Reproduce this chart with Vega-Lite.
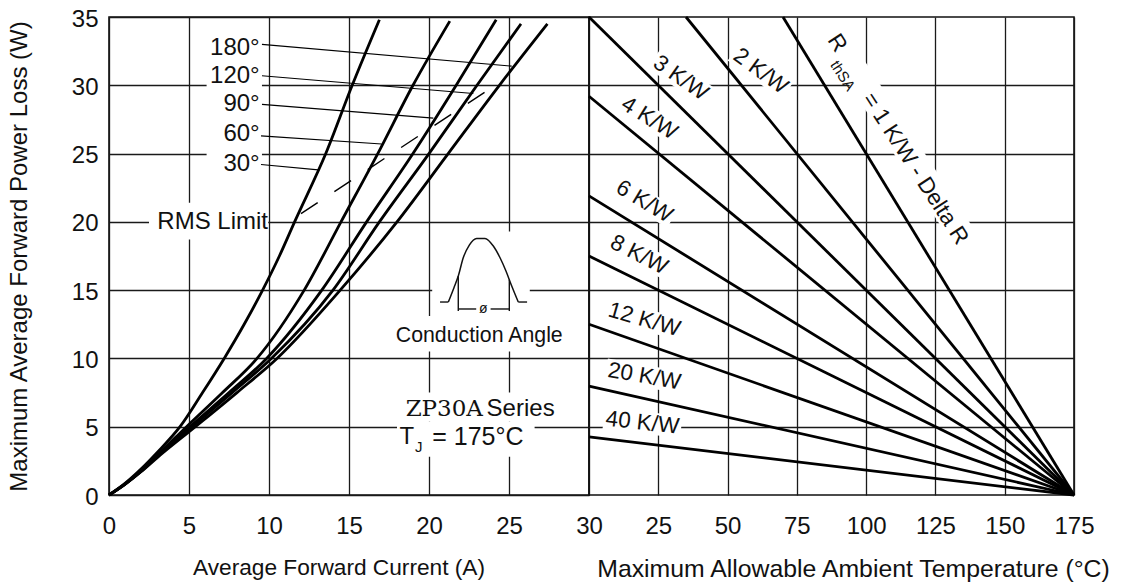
{
  "$schema": "https://vega.github.io/schema/vega-lite/v6.json",
  "background": "white",
  "padding": {"left": 6, "top": 6, "right": 4, "bottom": 0},
  "spacing": 0,
  "bounds": "flush",
  "config": {
    "font": "Liberation Sans",
    "view": {"stroke": "#111", "strokeWidth": 1.6},
    "axis": {"grid": true, "gridColor": "#1a1a1a", "gridWidth": 1.3, "gridOpacity": 1, "domain": false, "ticks": false, "tickSize": 0,
      "labelFont": "Liberation Sans", "labelFontSize": 24, "labelColor": "#111", "labelFlush": false, "labelOverlap": false, "labelBound": false,
      "titleFont": "Liberation Sans", "titleFontWeight": "normal", "titleColor": "#111"},
    "text": {"font": "Liberation Sans", "color": "#111"}
  },
  "datasets": {
    "curves": [
      {"a": "30°", "I": 0, "P": 0}, {"a": "30°", "I": 1, "P": 0.85}, {"a": "30°", "I": 2, "P": 1.9}, {"a": "30°", "I": 3, "P": 3.1}, {"a": "30°", "I": 4.44, "P": 5}, {"a": "30°", "I": 5.85, "P": 7.5}, {"a": "30°", "I": 7.2, "P": 10}, {"a": "30°", "I": 8.45, "P": 12.5}, {"a": "30°", "I": 9.6, "P": 15}, {"a": "30°", "I": 10.65, "P": 17.5}, {"a": "30°", "I": 11.6, "P": 20}, {"a": "30°", "I": 13.55, "P": 25}, {"a": "30°", "I": 15.2, "P": 30}, {"a": "30°", "I": 16.9, "P": 34.8},
      {"a": "60°", "I": 0, "P": 0}, {"a": "60°", "I": 1, "P": 0.8}, {"a": "60°", "I": 2, "P": 1.8}, {"a": "60°", "I": 3, "P": 2.9}, {"a": "60°", "I": 4.85, "P": 5}, {"a": "60°", "I": 7.1, "P": 7.5}, {"a": "60°", "I": 9.25, "P": 10}, {"a": "60°", "I": 12.2, "P": 15}, {"a": "60°", "I": 14.5, "P": 20}, {"a": "60°", "I": 16.8, "P": 25}, {"a": "60°", "I": 19.0, "P": 30}, {"a": "60°", "I": 21.3, "P": 34.7},
      {"a": "90°", "I": 0, "P": 0}, {"a": "90°", "I": 1, "P": 0.8}, {"a": "90°", "I": 2, "P": 1.75}, {"a": "90°", "I": 3, "P": 2.85}, {"a": "90°", "I": 5.05, "P": 5}, {"a": "90°", "I": 7.5, "P": 7.5}, {"a": "90°", "I": 9.85, "P": 10}, {"a": "90°", "I": 13.3, "P": 15}, {"a": "90°", "I": 16.1, "P": 20}, {"a": "90°", "I": 19.0, "P": 25}, {"a": "90°", "I": 21.7, "P": 30}, {"a": "90°", "I": 24.2, "P": 34.8},
      {"a": "120°", "I": 0, "P": 0}, {"a": "120°", "I": 1, "P": 0.8}, {"a": "120°", "I": 2, "P": 1.72}, {"a": "120°", "I": 3, "P": 2.8}, {"a": "120°", "I": 5.2, "P": 5}, {"a": "120°", "I": 7.7, "P": 7.5}, {"a": "120°", "I": 10.15, "P": 10}, {"a": "120°", "I": 14.0, "P": 15}, {"a": "120°", "I": 16.9, "P": 20}, {"a": "120°", "I": 20.0, "P": 25}, {"a": "120°", "I": 23.0, "P": 30}, {"a": "120°", "I": 25.75, "P": 34.5},
      {"a": "180°", "I": 0, "P": 0}, {"a": "180°", "I": 1, "P": 0.78}, {"a": "180°", "I": 2, "P": 1.7}, {"a": "180°", "I": 3, "P": 2.72}, {"a": "180°", "I": 5.4, "P": 5}, {"a": "180°", "I": 8.0, "P": 7.5}, {"a": "180°", "I": 10.5, "P": 10}, {"a": "180°", "I": 14.45, "P": 15}, {"a": "180°", "I": 18.0, "P": 20}, {"a": "180°", "I": 21.2, "P": 25}, {"a": "180°", "I": 24.4, "P": 30}, {"a": "180°", "I": 27.4, "P": 34.5}
    ],
    "rlab": [
      {"t": "3 K/W", "R": 3, "T": 33.1, "P": 30.55},
      {"t": "2 K/W", "R": 2, "T": 62.0, "P": 31.05},
      {"t": "4 K/W", "R": 4, "T": 21.8, "P": 27.6},
      {"t": "6 K/W", "R": 6, "T": 20.0, "P": 21.5},
      {"t": "8 K/W", "R": 8, "T": 18.1, "P": 17.6},
      {"t": "12 K/W", "R": 12, "T": 20.0, "P": 12.85},
      {"t": "20 K/W", "R": 20, "T": 20.0, "P": 8.7},
      {"t": "40 K/W", "R": 40, "T": 19.3, "P": 5.3}
    ],
    "rlines": [
      {"R": 1, "T": 70, "P": 35}, {"R": 1, "T": 175, "P": 0},
      {"R": 2, "T": 35, "P": 35}, {"R": 2, "T": 175, "P": 0},
      {"R": 3, "T": 0, "P": 35}, {"R": 3, "T": 175, "P": 0},
      {"R": 4, "T": 0, "P": 29.2}, {"R": 4, "T": 175, "P": 0},
      {"R": 6, "T": 0, "P": 21.9}, {"R": 6, "T": 175, "P": 0},
      {"R": 8, "T": 0, "P": 17.5}, {"R": 8, "T": 175, "P": 0},
      {"R": 12, "T": 0, "P": 12.5}, {"R": 12, "T": 175, "P": 0},
      {"R": 20, "T": 0, "P": 7.98}, {"R": 20, "T": 175, "P": 0},
      {"R": 40, "T": 0, "P": 4.25}, {"R": 40, "T": 175, "P": 0}
    ]
  },
  "hconcat": [
    {
      "width": 480,
      "height": 478,
      "encoding": {
        "x": {"field": "I", "type": "quantitative", "scale": {"domain": [0, 30], "nice": false, "zero": false},
          "axis": {"values": [0, 5, 10, 15, 20, 25, 30], "title": "Average Forward Current (A)", "titleFontSize": 22.7, "labelPadding": 19, "titlePadding": 18, "titleX": 229.5, "titleAlign": "center"}},
        "y": {"field": "P", "type": "quantitative", "scale": {"domain": [0, 35], "nice": false, "zero": false},
          "axis": {"values": [0, 5, 10, 15, 20, 25, 30, 35], "title": "Maximum Average Forward Power Loss (W)", "titleFontSize": 24, "labelPadding": 11, "titlePadding": 40, "labelOffset": 2}}
      },
      "layer": [
        {
          "data": {"values": [
            {"I": 6.1, "I2": 9.56, "P": 24.0, "P2": 34.0},
            {"I": 2.5, "I2": 9.95, "P": 18.7, "P2": 21.4},
            {"I": 20.2, "I2": 26.3, "P": 13.1, "P2": 19.3},
            {"I": 17.8, "I2": 28.5, "P": 10.5, "P2": 13.1},
            {"I": 18.1, "I2": 27.3, "P": 5.4, "P2": 7.5},
            {"I": 18.0, "I2": 26.6, "P": 2.8, "P2": 5.4}
          ]},
          "mark": {"type": "rect", "color": "white"},
          "encoding": {"x2": {"field": "I2"}, "y2": {"field": "P2"}}
        },
        {
          "data": {"name": "curves"},
          "mark": {"type": "line", "interpolate": "monotone", "color": "#000", "strokeWidth": 2.8},
          "encoding": {"detail": {"field": "a", "type": "nominal"}}
        },
        {
          "data": {"values": [{"I": 12.0, "P": 20.6}, {"I": 24.4, "P": 30.2}]},
          "mark": {"type": "line", "color": "#000", "strokeWidth": 1.4, "strokeDash": [20, 20]},
          "encoding": {}
        },
        {
          "data": {"values": [
            {"I": 9.56, "P": 33.0, "I2": 25.17, "P2": 31.4},
            {"I": 9.56, "P": 30.7, "I2": 22.77, "P2": 29.4},
            {"I": 9.56, "P": 28.6, "I2": 20.27, "P2": 27.6},
            {"I": 9.5, "P": 26.3, "I2": 17.04, "P2": 25.7},
            {"I": 9.5, "P": 24.2, "I2": 13.08, "P2": 23.8}
          ]},
          "mark": {"type": "rule", "color": "#000", "strokeWidth": 1.2},
          "encoding": {"x2": {"field": "I2"}, "y2": {"field": "P2"}}
        },
        {
          "data": {"values": [
            {"t": "180°", "I": 9.42, "P": 32.75},
            {"t": "120°", "I": 9.42, "P": 30.7},
            {"t": "90°", "I": 9.42, "P": 28.6},
            {"t": "60°", "I": 9.42, "P": 26.4},
            {"t": "30°", "I": 9.42, "P": 24.2},
            {"t": "RMS Limit", "I": 9.94, "P": 20.0}
          ]},
          "mark": {"type": "text", "align": "right", "baseline": "middle", "fontSize": 24},
          "encoding": {"text": {"field": "t"}}
        },
        {
          "data": {"values": [
            {"I": 21.21, "P": 14.13}, {"I": 21.56, "P": 15.18}, {"I": 21.83, "P": 16.03}, {"I": 22.14, "P": 17.37},
            {"I": 22.52, "P": 18.30}, {"I": 22.98, "P": 18.79}, {"I": 23.5, "P": 18.79}, {"I": 24.02, "P": 18.23},
            {"I": 24.44, "P": 17.37}, {"I": 24.81, "P": 16.40}, {"I": 25.17, "P": 15.30}, {"I": 25.58, "P": 14.13}
          ]},
          "mark": {"type": "line", "interpolate": "monotone", "color": "#111", "strokeWidth": 1.5},
          "encoding": {}
        },
        {
          "data": {"values": [
            {"I": 20.69, "P": 14.13, "I2": 21.21, "P2": 14.13},
            {"I": 25.58, "P": 14.13, "I2": 26.13, "P2": 14.13},
            {"I": 21.83, "P": 16.03, "I2": 21.83, "P2": 13.47},
            {"I": 25.02, "P": 15.76, "I2": 25.02, "P2": 13.47},
            {"I": 21.83, "P": 13.62, "I2": 22.95, "P2": 13.62},
            {"I": 23.85, "P": 13.62, "I2": 25.02, "P2": 13.62}
          ]},
          "mark": {"type": "rule", "color": "#111", "strokeWidth": 1.4},
          "encoding": {"x2": {"field": "I2"}, "y2": {"field": "P2"}}
        },
        {
          "data": {"values": [{"t": "ø", "I": 23.4, "P": 13.62}]},
          "mark": {"type": "text", "fontSize": 14},
          "encoding": {"text": {"field": "t"}}
        },
        {
          "data": {"values": [{"t": "Conduction Angle", "I": 23.14, "P": 11.64}]},
          "mark": {"type": "text", "fontSize": 21.3},
          "encoding": {"text": {"field": "t"}}
        },
        {
          "data": {"values": [{"t": "ZP30A", "I": 18.54, "P": 6.27}]},
          "mark": {"type": "text", "align": "left", "font": "DejaVu Serif", "fontSize": 23},
          "encoding": {"text": {"field": "t"}}
        },
        {
          "data": {"values": [{"t": "Series", "I": 23.6, "P": 6.27}, {"t": "T", "I": 18.15, "P": 4.27}]},
          "mark": {"type": "text", "align": "left", "fontSize": 24},
          "encoding": {"text": {"field": "t"}}
        },
        {
          "data": {"values": [{"t": "= 175°C", "I": 20.2, "P": 4.27}]},
          "mark": {"type": "text", "align": "left", "fontSize": 25},
          "encoding": {"text": {"field": "t"}}
        },
        {
          "data": {"values": [{"t": "J", "I": 19.12, "P": 3.5}]},
          "mark": {"type": "text", "align": "left", "fontSize": 15},
          "encoding": {"text": {"field": "t"}}
        }
      ]
    },
    {
      "width": 485,
      "height": 478,
      "encoding": {
        "x": {"field": "T", "type": "quantitative", "scale": {"domain": [0, 175], "nice": false, "zero": false},
          "axis": {"values": [25, 50, 75, 100, 125, 150, 175], "title": "Maximum Allowable Ambient Temperature (°C)", "titleFontSize": 24.8, "labelPadding": 19, "titlePadding": 18, "titleX": 264, "titleAlign": "center"}},
        "y": {"field": "P", "type": "quantitative", "scale": {"domain": [0, 35], "nice": false, "zero": false},
          "axis": {"values": [5, 10, 15, 20, 25, 30], "labels": false, "title": null}}
      },
      "layer": [
        {
          "data": {"name": "rlab"},
          "transform": [{"filter": "datum.R < 10"}],
          "mark": {"type": "point", "shape": "M-1,-0.333L1,-0.333L1,0.333L-1,0.333Z", "filled": true, "color": "white", "opacity": 1, "strokeWidth": 0, "size": 4356},
          "encoding": {"angle": {"field": "R", "type": "quantitative", "scale": {"domain": [2, 3, 4, 6, 8, 12, 20, 40], "range": [36, 35, 32, 31, 27, 16, 10, 6.5]}, "legend": null}}
        },
        {
          "data": {"name": "rlab"},
          "transform": [{"filter": "datum.R >= 10"}],
          "mark": {"type": "point", "shape": "M-1,-0.282L1,-0.282L1,0.282L-1,0.282Z", "filled": true, "color": "white", "opacity": 1, "strokeWidth": 0, "size": 6084},
          "encoding": {"angle": {"field": "R", "type": "quantitative", "scale": {"domain": [2, 3, 4, 6, 8, 12, 20, 40], "range": [36, 35, 32, 31, 27, 16, 10, 6.5]}, "legend": null}}
        },
        {
          "data": {"values": [{"T": 112.0, "P": 26.12}]},
          "mark": {"type": "point", "shape": "M-1,-0.104L1,-0.104L1,0.104L-1,0.104Z", "filled": true, "color": "white", "opacity": 1, "strokeWidth": 0, "size": 62500, "angle": 57}
        },
        {
          "data": {"name": "rlines"},
          "mark": {"type": "line", "color": "#000", "strokeWidth": 2.8},
          "encoding": {"detail": {"field": "R", "type": "nominal"}}
        },
        {
          "data": {"name": "rlab"},
          "mark": {"type": "text", "fontSize": 22.5},
          "encoding": {
            "text": {"field": "t"},
            "angle": {"field": "R", "type": "quantitative", "scale": {"domain": [2, 3, 4, 6, 8, 12, 20, 40], "range": [36, 35, 32, 31, 27, 16, 10, 6.5]}, "legend": null}
          }
        },
        {
          "data": {"values": [{"t": "R", "T": 89.6, "P": 33.1}, {"t": "= 1 K/W - Delta R", "T": 117.8, "P": 23.9}]},
          "mark": {"type": "text", "fontSize": 22.5, "angle": 57},
          "encoding": {"text": {"field": "t"}}
        },
        {
          "data": {"values": [{"t": "thSA", "T": 91.6, "P": 30.7}]},
          "mark": {"type": "text", "fontSize": 15, "angle": 57},
          "encoding": {"text": {"field": "t"}}
        }
      ]
    }
  ]
}
